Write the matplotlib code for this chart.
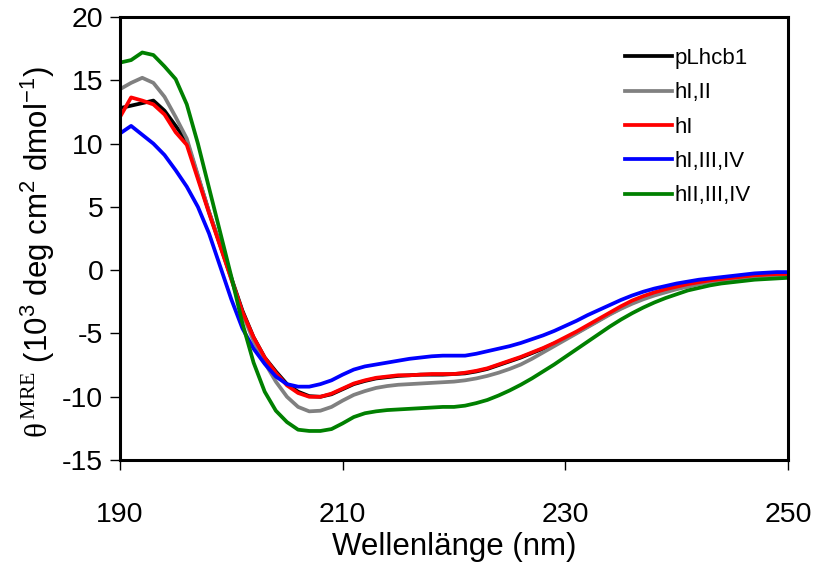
import matplotlib
matplotlib.use("Agg")
import matplotlib.pyplot as plt

plt.rcParams["font.family"] = ["Liberation Sans", "DejaVu Sans"]
plt.rcParams["axes.unicode_minus"] = False
plt.rcParams["mathtext.fontset"] = "custom"
plt.rcParams["mathtext.rm"] = "Liberation Sans"
plt.rcParams["mathtext.sf"] = "Liberation Serif"

wavelength = list(range(190, 251))

pLhcb1 = [12.8, 13.0, 13.2, 13.4, 12.6, 11.4, 10.2, 7.4, 4.6, 2.0,
          -0.6, -3.2, -5.3, -6.9, -8.0, -9.0, -9.6, -9.95, -10.0, -9.8,
          -9.4, -9.0, -8.75, -8.55, -8.45, -8.35, -8.3, -8.25, -8.25, -8.25,
          -8.2, -8.15, -8.0, -7.8, -7.5, -7.2, -6.9, -6.55, -6.2, -5.8,
          -5.4, -4.95, -4.45, -3.95, -3.45, -3.0, -2.55, -2.2, -1.9, -1.65,
          -1.45, -1.25, -1.05, -0.9, -0.8, -0.65, -0.55, -0.45, -0.4, -0.35,
          -0.3]

hI_II = [14.3, 14.8, 15.2, 14.8, 13.7, 12.1, 10.4, 7.5, 4.6, 2.0,
         -0.7, -3.4, -5.6, -7.3, -8.8, -10.0, -10.8, -11.15, -11.1, -10.8,
         -10.3, -9.85, -9.55, -9.3, -9.15, -9.05, -9.0, -8.95, -8.9, -8.85,
         -8.8, -8.7, -8.55, -8.35, -8.1, -7.8, -7.45, -7.0, -6.5, -6.0,
         -5.5, -5.0, -4.5, -4.0, -3.5, -3.05, -2.65, -2.3, -2.0, -1.75,
         -1.5, -1.3, -1.1, -0.95, -0.85, -0.75, -0.6, -0.5, -0.45, -0.4,
         -0.35]

hI = [12.1, 13.65, 13.4, 13.1, 12.3, 10.9, 9.9, 7.2, 4.5, 1.9,
      -0.7, -3.3, -5.3, -6.9, -8.1, -9.1, -9.7, -10.0, -10.0, -9.75,
      -9.35, -8.95, -8.7, -8.5, -8.4, -8.3, -8.3, -8.25, -8.2, -8.2,
      -8.2, -8.1, -7.95, -7.75, -7.45, -7.15, -6.85, -6.5, -6.15, -5.75,
      -5.3, -4.85, -4.35, -3.85, -3.35, -2.85, -2.4, -2.05, -1.75, -1.5,
      -1.3, -1.1, -0.95, -0.8, -0.7, -0.6, -0.5, -0.4, -0.35, -0.3,
      -0.3]

hI_III_IV = [10.8, 11.4, 10.7, 10.0, 9.1, 7.9, 6.6, 5.0, 2.9, 0.3,
             -2.3, -4.6, -6.2, -7.4, -8.4, -9.0, -9.2, -9.2, -9.0, -8.7,
             -8.25, -7.85, -7.6, -7.45, -7.3, -7.15, -7.0, -6.9, -6.8, -6.75,
             -6.75, -6.75, -6.6, -6.4, -6.2, -6.0, -5.75, -5.45, -5.15, -4.8,
             -4.4, -4.0, -3.55, -3.15, -2.75, -2.35, -2.0, -1.7, -1.45, -1.25,
             -1.05, -0.9, -0.75, -0.65, -0.55, -0.45, -0.35, -0.25, -0.2, -0.15,
             -0.15]

hII_III_IV = [16.4, 16.6, 17.2, 17.0, 16.1, 15.1, 13.1, 10.0, 6.5, 3.0,
              -0.5, -4.2, -7.3, -9.6, -11.1, -12.0, -12.6, -12.7, -12.7, -12.55,
              -12.1, -11.6, -11.3, -11.15, -11.05, -11.0, -10.95, -10.9, -10.85, -10.8,
              -10.8, -10.7, -10.5, -10.25, -9.9, -9.5, -9.05, -8.55, -8.0, -7.45,
              -6.85, -6.25, -5.65, -5.05, -4.45, -3.9, -3.4, -2.95, -2.55, -2.2,
              -1.9, -1.6, -1.4, -1.2, -1.05, -0.95, -0.85, -0.75, -0.7, -0.65,
              -0.6]

series = [
    ("pLhcb1", pLhcb1, "#000000"),
    ("hI,II", hI_II, "#808080"),
    ("hI", hI, "#FF0000"),
    ("hI,III,IV", hI_III_IV, "#0000FF"),
    ("hII,III,IV", hII_III_IV, "#008000"),
]

fig = plt.figure(figsize=(8.14, 5.68), dpi=100, facecolor="#fff")
ax = fig.add_axes([0.1474, 0.190, 0.8206, 0.780])

for label, vals, col in series:
    ax.plot(wavelength, vals, color=col, linewidth=2.7, label=label)

ax.set_xlim(190, 250)
ax.set_ylim(-15, 20)
ax.set_xticks([190, 210, 230, 250])
ax.set_yticks(range(-15, 21, 5))
ax.tick_params(direction="out", length=7, width=1, labelsize=20.5, pad=5)
ax.tick_params(axis="x", pad=23)
for s in ax.spines.values():
    s.set_linewidth(2.2)
    s.set_color("#000")

ax.set_xlabel("Wellenlänge (nm)", fontsize=22.5, labelpad=3)
ax.set_ylabel("$\\mathsf{θ}^{\\,\\mathsf{MRE}}$ (10$^3$ deg cm$^2$ dmol$^{-1}$)",
              fontsize=22.5)
ax.yaxis.set_label_coords(-0.095, 0.47)

ax.legend(loc="upper left", frameon=False, fontsize=16, handlelength=2.1,
          handletextpad=0.15, labelspacing=0.6, borderpad=0, borderaxespad=0,
          bbox_to_anchor=(0.756, 0.93))

fig.savefig("out.png", dpi=100, facecolor=fig.get_facecolor())
